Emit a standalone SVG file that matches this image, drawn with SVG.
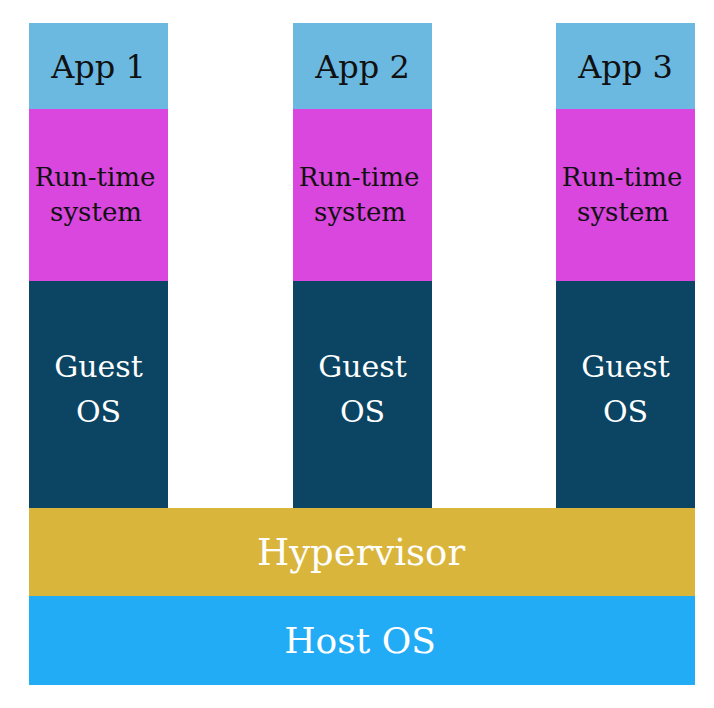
<svg xmlns="http://www.w3.org/2000/svg" width="714" height="708" viewBox="0 0 714 708">
<style>
.app{fill:#6BB9E1}
.rt{fill:#D947DE}
.os{fill:#0B4563}
.hv{fill:#D9B63B}
.host{fill:#22ACF6}
text{font-family:"DejaVu Serif","Liberation Serif",serif;text-anchor:middle}
.dark{fill:#111}
.light{fill:#fff}
</style>
<rect width="714" height="708" fill="#fff"/>
<g id="vm1">
<rect class="app" x="29" y="23" width="139" height="86"/>
<rect class="rt" x="29" y="109" width="139" height="172"/>
<rect class="os" x="29" y="281" width="139" height="228"/>
<text class="dark" x="98.5" y="78" font-size="32">App 1</text>
<text class="dark" x="95" y="186" font-size="26">Run-time</text>
<text class="dark" x="96" y="221" font-size="26">system</text>
<text class="light" x="98.5" y="377" font-size="30">Guest</text>
<text class="light" x="98.5" y="422" font-size="30">OS</text>
</g>
<g id="vm2">
<rect class="app" x="293" y="23" width="139" height="86"/>
<rect class="rt" x="293" y="109" width="139" height="172"/>
<rect class="os" x="293" y="281" width="139" height="228"/>
<text class="dark" x="362.5" y="78" font-size="32">App 2</text>
<text class="dark" x="359" y="186" font-size="26">Run-time</text>
<text class="dark" x="360" y="221" font-size="26">system</text>
<text class="light" x="362.5" y="377" font-size="30">Guest</text>
<text class="light" x="362.5" y="422" font-size="30">OS</text>
</g>
<g id="vm3">
<rect class="app" x="556" y="23" width="139" height="86"/>
<rect class="rt" x="556" y="109" width="139" height="172"/>
<rect class="os" x="556" y="281" width="139" height="228"/>
<text class="dark" x="625.5" y="78" font-size="32">App 3</text>
<text class="dark" x="622" y="186" font-size="26">Run-time</text>
<text class="dark" x="623" y="221" font-size="26">system</text>
<text class="light" x="625.5" y="377" font-size="30">Guest</text>
<text class="light" x="625.5" y="422" font-size="30">OS</text>
</g>
<g id="hypervisor">
<rect class="hv" x="29" y="508" width="666" height="88"/>
<text class="light" x="361" y="565" font-size="37">Hypervisor</text>
</g>
<g id="hostos">
<rect class="host" x="29" y="596" width="666" height="89"/>
<text class="light" x="360" y="653" font-size="36">Host OS</text>
</g>
<g id="connectors"></g>
</svg>
